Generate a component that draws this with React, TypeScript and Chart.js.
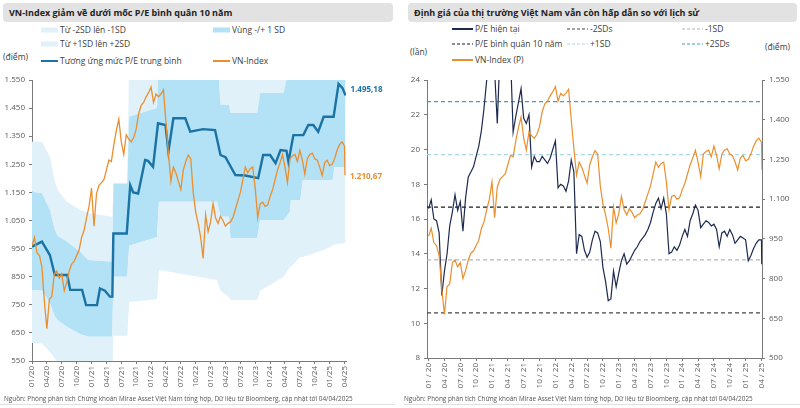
import React, { useEffect, useRef } from "react";
import { Chart, registerables } from "chart.js";
Chart.register(...registerables);

const FONT = "'Open Sans', 'Noto Sans', sans-serif";

// ---------- DATA ----------
const tickLabelsLeft = ["01/20","04/20","07/20","10/20","01/21","04/21","07/21","10/21","01/22","04/22","07/22","10/22","01/23","04/23","07/23","10/23","01/24","04/24","07/24","10/24","01/25","04/25"];
const tickLabelsRight = ["01 / 20","04 / 20","07 / 20","10 / 20","01 / 21","04 / 21","07 / 21","10 / 21","01 / 22","04 / 22","07 / 22","10 / 22","01 / 23","04 / 23","07 / 23","10 / 23","01 / 24","04 / 24","07 / 24","10 / 24","01 / 25","04 / 25"];
const tickMonths = [0,3,6,9,12,15,18,21,24,27,30,33,36,39,42,45,48,51,54,57,60,63];

// VN-Index, half-monthly from 01/2020
const vnIndex = [960, 990, 935, 925, 885, 760, 665, 770, 780, 860,
 870, 845, 860, 800, 830, 870, 895, 905, 925, 945,
 990, 1015, 1060, 1100, 1165, 1030, 1145, 1175, 1185, 1195,
 1230, 1265, 1260, 1320, 1370, 1410, 1330, 1285, 1355, 1340,
 1330, 1345, 1375, 1430, 1460, 1470, 1490, 1505, 1525, 1470,
 1500, 1490, 1500, 1515, 1400, 1290, 1190, 1240, 1220, 1190,
 1160, 1230, 1260, 1283, 1270, 1150, 1080, 1040, 990, 915,
 1070, 1010, 1045, 1110, 1060, 1040, 1065, 1050, 1030, 1040,
 1045, 1060, 1090, 1120, 1150, 1195, 1240, 1220, 1235, 1240,
 1165, 1060, 1110, 1115, 1100, 1105, 1135, 1160, 1195, 1230,
 1255, 1285, 1240, 1185, 1270, 1280, 1285, 1260, 1300, 1265,
 1215, 1270, 1285, 1290, 1270, 1265, 1240, 1210, 1255, 1265,
 1245, 1250, 1270, 1300, 1320, 1330, 1315];
const vnLastMonth = 63.1;
const vnLast = 1210.67;

// P/E current, half-monthly from 01/2020
const peNow = [16.6, 17.1, 16.0, 15.9, 15.2, 11.6, 13.0, 14.0, 15.6, 16.4,
 17.4, 16.5, 17.0, 15.3, 17.2, 18.4, 18.7, 19.0, 19.6, 20.2,
 21.1, 22.4, 24.0, 25.5, 26.5, 24.5, 21.5, 25.5, 26.5, 27.0,
 26.0, 25.5, 21.0, 21.9, 22.7, 23.5, 21.8, 21.5, 22.0, 19.0,
 19.6, 19.3, 19.3, 19.6, 19.4, 19.2, 19.5, 20.0, 20.5, 17.8,
 18.0, 17.9, 17.6, 18.2, 19.4, 18.7, 14.0, 15.1, 15.0, 14.2,
 13.8, 14.1, 14.8, 15.3, 15.2, 14.7, 13.2, 12.4, 11.3, 11.4,
 13.0, 12.1, 12.9, 13.6, 14.0, 13.4, 13.6, 13.9, 14.2, 14.4,
 14.7, 14.9, 15.1, 15.4, 15.8, 16.4, 16.9, 17.2, 16.6, 17.2,
 16.3, 14.0, 14.1, 14.4, 14.2, 14.5, 15.0, 15.4, 15.0, 15.9,
 16.3, 16.8, 16.5, 15.5, 15.7, 15.9, 15.8, 15.6, 15.7, 15.4,
 14.4, 15.2, 15.3, 15.0, 15.4, 15.1, 14.6, 14.8, 15.0, 14.9,
 14.8, 13.6, 13.9, 14.3, 14.6, 14.8, 14.8];
const peLastMonth = 63.05;
const peLast = 13.4;

// P/E reference levels: -2SD, -1SD, mean, +1SD, +2SD
const peLevels = [10.6, 13.65, 16.68, 19.7, 22.75];

// VN-Index equivalent of average P/E
const meanMonths = [0, 2.0, 3.6, 4.6, 7.1, 7.7, 10.1, 10.9, 13.1, 13.7, 14.7, 15.7, 16.2, 16.4, 19.1, 19.8, 20.4, 21.4, 22.8, 23.4, 24.4, 25.4, 26.9, 27.5, 28.5, 30.9, 31.9, 34.5, 36.9, 38.0, 39.0, 41.0, 43.0, 45.6, 46.6, 48.0, 49.1, 50.1, 51.3, 51.7, 52.7, 54.7, 55.7, 56.7, 57.7, 58.8, 60.8, 61.8, 62.6, 63.2];
const meanValues = [957, 975, 927, 856, 856, 803, 803, 749, 749, 808, 800, 779, 779, 1004, 1004, 1176, 1150, 1146, 1265, 1262, 1241, 1396, 1390, 1295, 1414, 1414, 1366, 1375, 1372, 1283, 1275, 1212, 1210, 1201, 1283, 1283, 1254, 1301, 1298, 1259, 1354, 1354, 1390, 1390, 1366, 1419, 1419, 1536, 1521, 1495.18];

// SD bands (VN-Index points)
const bandMonths = [0, 2, 3.6, 4.6, 5.2, 7, 9.7, 11.3, 16.2, 16.4, 19.2, 19.6, 25.2, 25.6, 37.3, 38.0, 39.7, 40.0, 45.4, 46.0, 50.7, 52.0, 52.2, 54.1, 54.6, 58.8, 60.6, 61.0, 63.2];
const bandLow2 = [614, 612, 583, 560, 545, 520, 500, 495, 495, 640, 640, 760, 770, 874, 838, 800, 778, 767, 767, 800, 849, 885, 885, 920, 920, 945, 960, 965, 970];
const bandLow1 = [803, 800, 756, 708, 695, 672, 645, 636, 636, 850, 850, 960, 990, 1117, 1117, 1063, 1063, 987, 987, 1051, 1051, 1080, 1123, 1123, 1194, 1194, 1194, 1240, 1240];
const bandUp1 = [1152, 1147, 1087, 1016, 995, 975, 939, 909, 903, 1182, 1182, 1420, 1450, 1650, 1650, 1462, 1462, 1433, 1433, 1504, 1504, 1600, 1650, 1650, 1700, 1700, 1700, 1750, 1750];
const bandUp2 = [1330, 1330, 1277, 1190, 1158, 1117, 1087, 1077, 1063, 1182, 1182, 1650, 1700, 1900, 1900, 1800, 1800, 1750, 1750, 1800, 1800, 1900, 1900, 1900, 1950, 1950, 1950, 2000, 2000];

// ---------- STYLE ----------
const MED = "#b3e2f6";
const LIGHT = "#e1f1fa";
const BLUE = "#1a72a5";
const ORANGE = "#ea8f2e";
const NAVY = "#1d2b4f";
const TICK = "#595959";
const AXIS = "#7a7a7a";
const levelColors = ["#454545", "#b5b5b5", "#1a1a1a", "#a9d8e6", "#43a0b6"];

const pts = (xs: number[], ys: number[]) => xs.map((x, i) => ({ x, y: ys[i] }));
const halfMonthly = (arr: number[], lastX: number, lastY: number) => [
  ...arr.map((y, i) => ({ x: i / 2, y })),
  { x: lastX, y: lastY },
];
const fmtInt = (v: number) => String(Math.round(v)).replace(/\B(?=(\d{3})+(?!\d))/g, ".");
const fmtDec = (v: number) => {
  const [a, b] = v.toFixed(2).split(".");
  return a.replace(/\B(?=(\d{3})+(?!\d))/g, ".") + "," + b;
};

const tickFont = { family: FONT, size: 8 };

function xScale(labels: string[], min: number, max: number, height: number) {
  return {
    type: "linear" as const,
    min,
    max,
    afterBuildTicks: (s: any) => {
      s.ticks = tickMonths.map((v) => ({ value: v }));
    },
    afterFit: (s: any) => {
      s.height = height;
    },
    ticks: {
      autoSkip: false,
      minRotation: 90,
      maxRotation: 90,
      padding: 2,
      font: tickFont,
      color: TICK,
      callback: (v: any) => labels[tickMonths.indexOf(Math.round(Number(v)))] ?? "",
    },
    grid: { display: true, drawOnChartArea: false, tickLength: 3, color: AXIS },
    border: { display: true, color: AXIS },
  };
}

function yScale(min: number, max: number, step: number, width: number, position: "left" | "right", fmt: (v: number) => string) {
  return {
    type: "linear" as const,
    position,
    min,
    max,
    afterFit: (s: any) => {
      s.width = width;
    },
    ticks: { stepSize: step, font: tickFont, color: TICK, padding: 4, callback: (v: any) => fmt(Number(v)) },
    grid: { display: true, drawOnChartArea: false, tickLength: 3, color: AXIS },
    border: { display: true, color: AXIS },
  };
}

const endLabels = {
  id: "endLabels",
  afterDatasetsDraw(chart: any) {
    const ctx = chart.ctx;
    ctx.save();
    ctx.font = `bold 8px ${FONT}`;
    ctx.textBaseline = "middle";
    ctx.textAlign = "left";
    const draw = (idx: number, color: string, dy: number) => {
      const meta = chart.getDatasetMeta(idx);
      const el = meta.data[meta.data.length - 1];
      const ds = chart.data.datasets[idx].data;
      const val = ds[ds.length - 1].y;
      ctx.fillStyle = color;
      ctx.fillText(fmtDec(val), el.x + 5, el.y + dy);
    };
    draw(4, BLUE, -6);
    draw(5, ORANGE, 1);
    ctx.restore();
  },
};

function LeftChart() {
  const ref = useRef<HTMLCanvasElement>(null);
  useEffect(() => {
    const bandDs = (ys: number[], fill: any, color: string) => ({
      data: pts(bandMonths, ys),
      borderWidth: 0,
      borderColor: "rgba(0,0,0,0)",
      pointRadius: 0,
      fill,
      backgroundColor: color,
      order: 10,
    });
    const chart = new Chart(ref.current!, {
      type: "line",
      data: {
        datasets: [
          bandDs(bandLow2, false, "rgba(0,0,0,0)"),
          bandDs(bandLow1, "-1", LIGHT),
          bandDs(bandUp1, "-1", MED),
          bandDs(bandUp2, "-1", LIGHT),
          { data: pts(meanMonths, meanValues), borderColor: BLUE, borderWidth: 2.4, pointRadius: 0, fill: false, order: 1 },
          { data: halfMonthly(vnIndex, vnLastMonth, vnLast), borderColor: ORANGE, borderWidth: 1.3, pointRadius: 0, fill: false, order: 0 },
        ] as any,
      },
      options: {
        animation: false,
        responsive: false,
        events: [],
        layout: { padding: { top: 14, right: 54, left: 0, bottom: 0 } },
        plugins: { legend: { display: false }, tooltip: { enabled: false } },
        scales: {
          x: xScale(tickLabelsLeft, 0, 63.3, 35),
          y: yScale(550, 1550, 100, 32, "left", fmtInt),
        } as any,
      },
      plugins: [endLabels],
    });
    return () => chart.destroy();
  }, []);
  return <canvas ref={ref} width={400} height={330} style={{ position: "absolute", left: 0, top: 66 }} />;
}

function RightChart() {
  const ref = useRef<HTMLCanvasElement>(null);
  useEffect(() => {
    const levelDs = peLevels.map((lv, i) => ({
      data: [{ x: -0.3, y: lv }, { x: 63.1, y: lv }],
      borderColor: levelColors[i],
      borderWidth: 1.2,
      borderDash: [4, 3],
      pointRadius: 0,
      fill: false,
      yAxisID: "y",
      order: 5,
    }));
    const chart = new Chart(ref.current!, {
      type: "line",
      data: {
        datasets: [
          ...levelDs,
          { data: halfMonthly(peNow, peLastMonth, peLast), borderColor: NAVY, borderWidth: 1.2, pointRadius: 0, fill: false, yAxisID: "y", order: 1 },
          { data: halfMonthly(vnIndex, vnLastMonth, vnLast), borderColor: ORANGE, borderWidth: 1.2, pointRadius: 0, fill: false, yAxisID: "y2", order: 0 },
        ] as any,
      },
      options: {
        animation: false,
        responsive: false,
        events: [],
        layout: { padding: { top: 14, right: 0, left: 0, bottom: 0 } },
        plugins: { legend: { display: false }, tooltip: { enabled: false } },
        scales: {
          x: xScale(tickLabelsRight, -0.3, 63.1, 38),
          y: yScale(8, 24, 2, 27, "left", (v) => String(v)),
          y2: yScale(500, 1550, 150, 38, "right", fmtInt),
        } as any,
      },
    });
    return () => chart.destroy();
  }, []);
  return <canvas ref={ref} width={400} height={330} style={{ position: "absolute", left: 400, top: 66 }} />;
}

const txt: React.CSSProperties = { position: "absolute", fontFamily: FONT, fontSize: 8.5, color: "#404040", whiteSpace: "nowrap", lineHeight: "12px" };

function Swatch({ x, y, kind, color, w }: { x: number; y: number; kind: "band" | "line" | "dash"; color: string; w: number }) {
  return (
    <svg style={{ position: "absolute", left: x, top: y - 4 }} width={w} height={8}>
      {kind === "band" && <rect x={0} y={1.5} width={w} height={5} fill={color} />}
      {kind === "line" && <line x1={0} y1={4} x2={w} y2={4} stroke={color} strokeWidth={2} />}
      {kind === "dash" && <line x1={0} y1={4} x2={w} y2={4} stroke={color} strokeWidth={1.2} strokeDasharray="3 2" />}
    </svg>
  );
}

function LegendItem({ x, y, kind, color, label, w = 17 }: any) {
  return (
    <>
      <Swatch x={x} y={y} kind={kind} color={color} w={w} />
      <div style={{ ...txt, left: x + w + 2, top: y - 6 }}>{label}</div>
    </>
  );
}

const titleBox: React.CSSProperties = {
  position: "absolute",
  top: 3,
  height: 19,
  background: "#e2e2e2",
  borderRadius: 4,
  fontFamily: FONT,
  fontWeight: 700,
  fontSize: 9,
  color: "#222",
  lineHeight: "19px",
  paddingLeft: 6,
  boxSizing: "border-box",
  whiteSpace: "nowrap",
};

const sourceStyle: React.CSSProperties = { ...txt, fontSize: 6.4, color: "#555", top: 393 };
const SOURCE = "Nguồn: Phòng phân tích Chứng khoán Mirae Asset Việt Nam tổng hợp,  Dữ liệu từ Bloomberg, cập nhật tới 04/04/2025";

export default function App() {
  return (
    <div style={{ position: "absolute", left: 0, top: 0, width: 800, height: 408, background: "#fff", overflow: "hidden" }}>
      {/* left panel */}
      <div style={{ ...titleBox, left: 3, width: 390 }}>VN-Index giảm về dưới mốc P/E bình quân 10 năm</div>
      <LegendItem x={41} y={30} kind="band" color={LIGHT} label="Từ -2SD lên -1SD" />
      <LegendItem x={213} y={30} kind="band" color={MED} label="Vùng -/+ 1 SD" />
      <LegendItem x={41} y={44} kind="band" color={LIGHT} label="Từ +1SD lên +2SD" />
      <LegendItem x={41} y={61} kind="line" color={BLUE} label="Tương ứng mức P/E trung bình" />
      <LegendItem x={213} y={61} kind="line" color={ORANGE} label="VN-Index" />
      <div style={{ ...txt, left: 3, top: 51 }}>(điểm)</div>
      <LeftChart />
      <div style={{ ...sourceStyle, left: 4 }}>{SOURCE}</div>

      {/* right panel */}
      <div style={{ ...titleBox, left: 408, width: 389 }}>Định giá của thị trường Việt Nam vẫn còn hấp dẫn so với lịch sử</div>
      <LegendItem x={452} y={29} kind="line" color={NAVY} label="P/E hiện tại" w={21} />
      <LegendItem x={567} y={29} kind="dash" color={levelColors[0]} label="-2SDs" w={21} />
      <LegendItem x={682} y={29} kind="dash" color={levelColors[1]} label="-1SD" w={21} />
      <LegendItem x={452} y={44} kind="dash" color={levelColors[2]} label="P/E bình quân 10 năm" w={21} />
      <LegendItem x={567} y={44} kind="dash" color={levelColors[3]} label="+1SD" w={21} />
      <LegendItem x={682} y={44} kind="dash" color={levelColors[4]} label="+2SDs" w={21} />
      <LegendItem x={452} y={60} kind="line" color={ORANGE} label="VN-Index (P)" w={21} />
      <div style={{ ...txt, left: 410, top: 46 }}>(lần)</div>
      <div style={{ ...txt, left: 765, top: 41 }}>(điểm)</div>
      <RightChart />
      <div style={{ ...sourceStyle, left: 404 }}>{SOURCE}</div>

      <div style={{ position: "absolute", left: 0, top: 404, width: 395, height: 1, background: "#e0e0e0" }} />
      <div style={{ position: "absolute", left: 404, top: 404, width: 396, height: 1, background: "#e0e0e0" }} />
    </div>
  );
}
